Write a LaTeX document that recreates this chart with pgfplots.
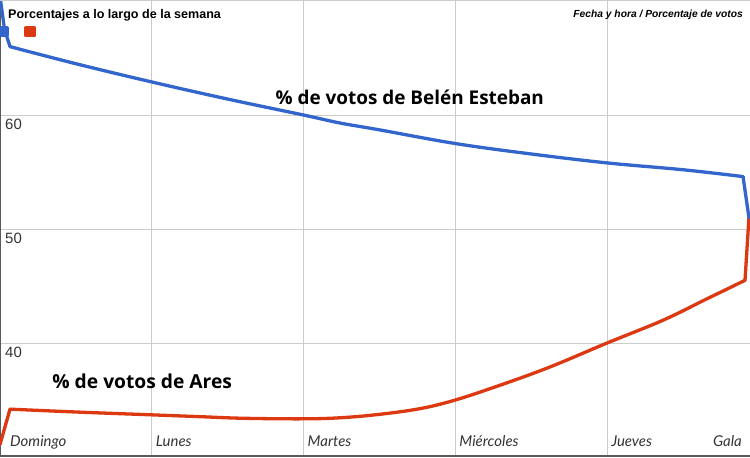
\documentclass[border=0pt]{standalone}
\usepackage{fontspec}
\setmainfont{Liberation Sans}
\newfontfamily\lato{Lato}
\newfontfamily\opensans{Open Sans}
\usepackage{pgfplots}
\pgfplotsset{compat=1.18}
\usepackage{pgfplotstable}
\definecolor{gblue}{HTML}{3366CC}
\definecolor{gred}{HTML}{DC3912}
\definecolor{gridc}{HTML}{CCCCCC}
\definecolor{labc}{HTML}{333333}
\pgfplotstableread{
x y
0 70.4
0.03 67.5
0.066 66.0
}\bluestart
\pgfplotstableread{
x y
0.066 66.0
0.5 64.5
1.0 62.9
1.5 61.4
2.0 60.0
2.24 59.3
2.5 58.7
3.0 57.5
3.49 56.6
4.0 55.8
4.5 55.2
4.896 54.6
}\bluemid
\pgfplotstableread{
x y
4.896 54.6
4.935 51.0
}\blueend
\pgfplotstableread{
x y
4.935 51.0
4.909 45.5
}\redstart
\pgfplotstableread{
x y
4.909 45.5
4.778 44.65
4.646 43.8
4.369 42.0
4.0 40.0
3.624 37.9
3.295 36.3
3.0 35.0
2.77 34.25
2.504 33.75
2.25 33.45
2.0 33.35
1.6 33.4
1.3 33.55
1.0 33.7
0.5 33.95
0.066 34.2
}\redmid
\pgfplotstableread{
x y
0.066 34.2
0 31.1
}\redend
\begin{document}
\begin{tikzpicture}
\begin{axis}[
  scale only axis,
  width=750bp, height=456bp,
  xmin=0, xmax=4.942,
  ymin=30.09, ymax=70.09,
  axis x line*=bottom, axis y line*=left,
  axis line style={draw=black!65, line width=1.2bp, -},
  major tick length=0pt,
  xtick={0,1,2,3,4},
  xticklabels={\hspace{6bp}Domingo,Lunes,Martes,Miércoles,Jueves},
  extra x ticks={4.942},
  extra x tick labels={Gala},
  extra x tick style={grid=none, xticklabel style={anchor=base east, xshift=-12bp}},
  ytick={40,50,60},
  grid=major,
  major grid style={draw=gridc, line width=0.8bp},
  xticklabel style={anchor=base west, inner sep=0pt, xshift=4bp, yshift=10bp, font=\lato\itshape\fontsize{15}{17}\selectfont, text=labc},
  yticklabel style={anchor=north west, inner sep=0pt, xshift=5bp, yshift=-4bp, font=\fontsize{15}{18}\selectfont, text=labc},
  /pgf/number format/assume math mode=true,
  legend columns=2,
  legend style={draw=none, fill=none, at={(rel axis cs:0,1)}, anchor=north west, xshift=-2bp, yshift=-26bp, inner sep=0pt, column sep=0pt, /tikz/every even column/.append style={column sep=11bp}},
  legend image code/.code={\fill (0bp,-4bp) rectangle (8bp,4bp);},
  every axis plot/.append style={line width=3.3bp, line join=round, line cap=round},
]
\addplot[gblue] table[x=x,y=y]{\bluestart};
\addlegendentry{}
\addplot[gred] table[x=x,y=y]{\redstart};
\addlegendentry{}
\addplot[gblue, smooth, tension=0.6, forget plot] table[x=x,y=y]{\bluemid};
\addplot[gblue, forget plot] table[x=x,y=y]{\blueend};
\addplot[gred, smooth, tension=0.6, forget plot] table[x=x,y=y]{\redmid};
\addplot[gred, forget plot] table[x=x,y=y]{\redend};
\draw[gridc, line width=0.8bp] (rel axis cs:0,1) -- (rel axis cs:1,1);
\node[anchor=base west, font=\bfseries\fontsize{12.6}{14}\selectfont, inner sep=0pt] at (rel axis cs:0,1) [xshift=8bp, yshift=-19bp] {Porcentajes a lo largo de la semana};
\node[anchor=base east, font=\bfseries\itshape\fontsize{10.3}{12}\selectfont, inner sep=0pt] at (rel axis cs:1,1) [xshift=-7bp, yshift=-18bp] {Fecha y hora / Porcentaje de votos};
\node[font=\opensans\bfseries\fontsize{19}{22}\selectfont] at (axis cs:2.70,61.58) {\% de votos de Belén Esteban};
\node[font=\opensans\bfseries\fontsize{19.3}{22}\selectfont] at (axis cs:0.937,36.67) {\% de votos de Ares};
\end{axis}
\pgfresetboundingbox
\path (0,-2bp) rectangle (750bp,456bp);
\end{tikzpicture}
\end{document}
